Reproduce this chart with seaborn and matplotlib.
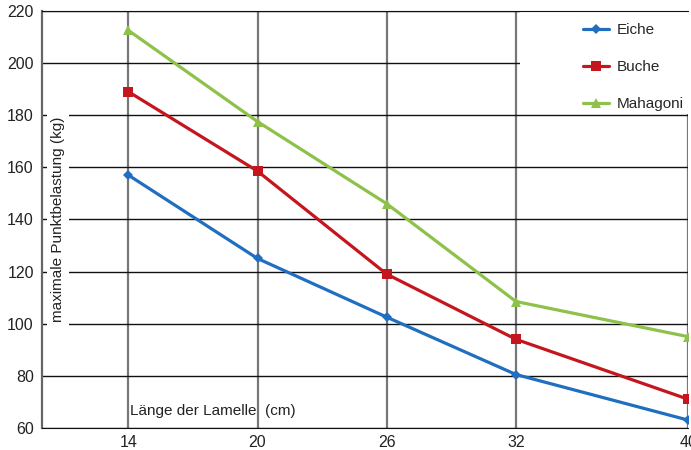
import pandas as pd
import seaborn as sns
import matplotlib.pyplot as plt
from matplotlib.patches import Rectangle

laenge = [14, 20, 26, 32, 40]
eiche = [157, 125, 102.5, 80.5, 63]
buche = [189, 158.5, 119, 94, 71]
mahagoni = [212.5, 177.5, 146, 108.5, 95]

df = pd.DataFrame({
    'Länge': laenge * 3,
    'Last': eiche + buche + mahagoni,
    'Holz': ['Eiche'] * 5 + ['Buche'] * 5 + ['Mahagoni'] * 5,
})

sns.set_style('white')
plt.rcParams['font.family'] = ['Liberation Sans', 'DejaVu Sans']

fig = plt.figure(figsize=(6.91, 4.5), dpi=100)
ax = fig.add_axes([0.061, 0.049, 0.935, 0.927])

farben = {'Eiche': '#1F6EBF', 'Buche': '#C5161D', 'Mahagoni': '#8DC14A'}
marker = {'Eiche': 'D', 'Buche': 's', 'Mahagoni': '^'}
sns.lineplot(data=df, x='Länge', y='Last', hue='Holz', style='Holz',
             palette=farben, markers=marker, dashes=False, linewidth=2.3,
             markersize=7, markeredgewidth=0, ax=ax, zorder=3)
groesse = {'D': 5.5, 's': 6.5, '^': 7.5}
for ln in ax.lines:
    m = ln.get_marker()
    if m in groesse:
        ln.set_markersize(groesse[m])

ax.set_xlim(10, 40)
ax.set_ylim(60, 220)
ax.set_xticks(laenge)
ax.set_yticks(range(60, 221, 20))
ax.tick_params(axis='both', labelsize=11.5, colors='#222222')
ax.tick_params(axis='y', direction='out', length=5, width=1, color='#555555', pad=1)
ax.tick_params(axis='x', length=0, pad=5)

ax.grid(axis='y', color='#111111', linewidth=1)
ax.grid(axis='x', color='#777777', linewidth=1.6)
ax.set_axisbelow(True)
ax.spines['right'].set_visible(False)
ax.spines['top'].set_color('#111111')
ax.spines['bottom'].set_color('#111111')
ax.spines['left'].set_color('#666666')
ax.spines['left'].set_linewidth(1.6)

ax.set_xlabel('')
ax.set_ylabel('')
ax.text(0.024, 0.5, 'maximale Punktbelastung (kg)', transform=ax.transAxes,
        rotation=90, ha='center', va='center', fontsize=11, color='#222222',
        bbox=dict(facecolor='white', edgecolor='none', pad=3), zorder=2)
ax.text(0.136, 0.04, 'Länge der Lamelle  (cm)', transform=ax.transAxes,
        ha='left', va='center', fontsize=11, color='#222222', zorder=2)

# white area behind the legend
ax.add_patch(Rectangle((0.739, 0.753), 0.262, 0.245, transform=ax.transAxes,
                       facecolor='white', edgecolor='none', zorder=2.5))
leg = ax.legend(loc='upper right', bbox_to_anchor=(1.012, 1.0), frameon=False,
                fontsize=11, handlelength=1.7, handletextpad=0.5,
                labelspacing=1.5, borderaxespad=0.4)
leg.set_zorder(4)

fig.savefig('out.png', dpi=100)
